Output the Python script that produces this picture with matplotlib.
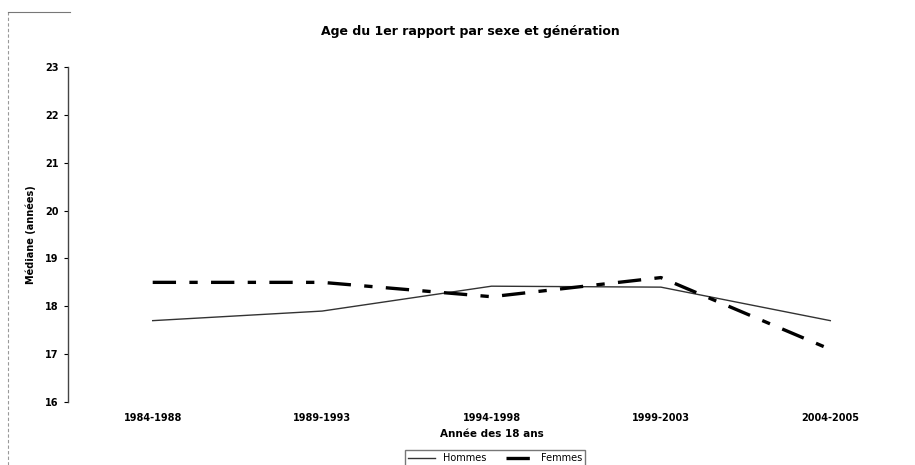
import matplotlib
matplotlib.use("Agg")
import matplotlib.pyplot as plt
from matplotlib.lines import Line2D

categories = ["1984-1988", "1989-1993", "1994-1998", "1999-2003", "2004-2005"]
hommes = [17.7, 17.9, 18.42, 18.4, 17.7]
femmes = [18.5, 18.5, 18.2, 18.6, 17.1]
yticks = [16, 17, 18, 19, 20, 21, 22, 23]

plt.rcParams['font.family'] = ['DejaVu Sans']

fig = plt.figure(figsize=(9.15, 4.65), dpi=100)
ax = fig.add_axes([68/915, 1-402/465, 1-68/915, (402-67)/465])

x = list(range(len(categories)))
ax.plot(x, hommes, color='#333333', lw=1.0, label='Hommes')
ax.plot(x, femmes, color='black', lw=2.4, dashes=(7, 4, 2.5, 4), label='Femmes')

ax.set_xlim(-0.5, 4.5)
ax.set_ylim(16, 23)
ax.set_yticks(yticks)
ax.set_yticklabels([str(v) for v in yticks], fontsize=7, fontweight='bold')
ax.set_xticks(x)
ax.set_xticklabels(categories, fontsize=7, fontweight='bold')
ax.tick_params(axis='x', length=0, pad=8)
ax.tick_params(axis='y', length=3, width=0.8, pad=4)
for s in ['top', 'right', 'bottom']:
    ax.spines[s].set_visible(False)
ax.spines['left'].set_linewidth(1.0)
ax.spines['left'].set_color('#444444')

ax.set_ylabel("Médiane (années)", fontsize=7, fontweight='bold', labelpad=6)
ax.set_xlabel("Année des 18 ans", fontsize=7.5, fontweight='bold', labelpad=4)

fig.text(470/915, 1-31/465, "Age du 1er rapport par sexe et génération",
         ha='center', va='center', fontsize=9, fontweight='bold')

handles = [Line2D([0], [0], color='#333333', lw=1.0),
           Line2D([0], [0], color='black', lw=2.4, dashes=(7, 4, 2.5, 4))]
fig.legend(handles, ['Hommes', 'Femmes'], loc='center', bbox_to_anchor=(495/915, 1-458/465),
           ncol=2, fontsize=7, frameon=True, fancybox=False, edgecolor='#555555',
           handlelength=2.8, columnspacing=2.0, borderpad=0.3)

# scanned page border
fig.add_artist(Line2D([8/915, 8/915], [0, 1-12/465], transform=fig.transFigure,
                      color='#999999', lw=0.8, ls=(0, (3, 2))))
fig.add_artist(Line2D([8/915, 70/915], [1-12/465, 1-12/465], transform=fig.transFigure,
                      color='#777777', lw=0.8))

fig.savefig("out.png", dpi=100)
